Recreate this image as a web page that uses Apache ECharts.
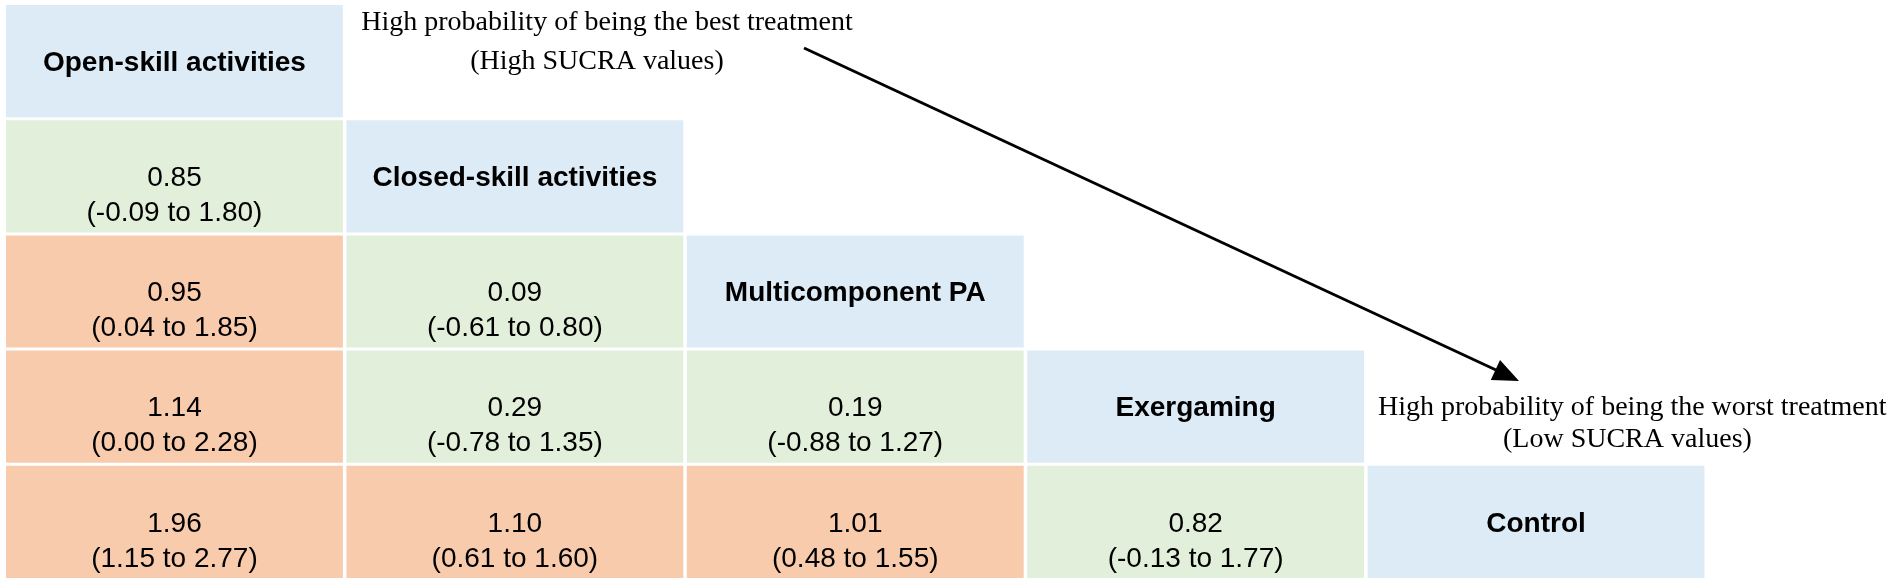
<!DOCTYPE html>
<html>
<head>
<meta charset="utf-8">
<script src="https://cdn.jsdelivr.net/npm/echarts@6/dist/echarts.min.js"></script>
<style>
  html, body { margin: 0; padding: 0; background: #fff; }
  #main { width: 1901px; height: 586px; }
</style>
</head>
<body>
<div id="main"></div>
<script>
(function () {
    'use strict';

    // treatments, ranked from best (top left) to worst (bottom right)
    var treatments = ['Open-skill activities', 'Closed-skill activities', 'Multicomponent PA', 'Exergaming', 'Control'];

    // lower triangle, row = treatment below, column = treatment compared
    var effect = [
        [],
        [0.85],
        [0.95, 0.09],
        [1.14, 0.29, 0.19],
        [1.96, 1.10, 1.01, 0.82]
    ];
    var ciLow = [
        [],
        [-0.09],
        [0.04, -0.61],
        [0.00, -0.78, -0.88],
        [1.15, 0.61, 0.48, -0.13]
    ];
    var ciHigh = [
        [],
        [1.80],
        [1.85, 0.80],
        [2.28, 1.35, 1.27],
        [2.77, 1.60, 1.55, 1.77]
    ];
    var significant = [
        [],
        [0],
        [1, 0],
        [1, 0, 0],
        [1, 1, 1, 0]
    ];

    var colours = { diag: '#DDEBF7', sig: '#F8CBAD', ns: '#E2EFDA' };

    // one item per cell: diagonal labels + comparisons
    var cells = [];
    treatments.forEach(function (name, r) {
        for (var c = 0; c < r; c++) {
            cells.push({
                value: [c, r],
                kind: significant[r][c] ? 'sig' : 'ns',
                lines: [effect[r][c].toFixed(2),
                    '(' + ciLow[r][c].toFixed(2) + ' to ' + ciHigh[r][c].toFixed(2) + ')']
            });
        }
        cells.push({ value: [r, r], kind: 'diag', lines: [name] });
    });

    var myChart = echarts.init(document.getElementById('main'));

    var option = {
        backgroundColor: '#fff',
        animation: false,
        grid: { left: 6, top: 5, width: 1702, height: 576 },
        xAxis: { type: 'category', data: treatments, show: false },
        yAxis: { type: 'category', data: treatments, inverse: true, show: false },
        series: [{
            type: 'custom',
            data: cells.map(function (d) { return d.value; }),
            renderItem: function (params, api) {
                var cell = cells[params.dataIndex];
                var p = api.coord([api.value(0), api.value(1)]);
                var s = api.size([1, 1]);
                var x0 = p[0] - s[0] / 2, y0 = p[1] - s[1] / 2;
                var w = s[0] - 3.5, h = s[1] - 3;
                var mx = x0 + w / 2, my = y0 + h / 2;
                var children = [{
                    type: 'rect',
                    shape: { x: x0, y: y0, width: w, height: h },
                    style: { fill: colours[cell.kind] }
                }];
                if (cell.kind === 'diag') {
                    children.push({
                        type: 'text',
                        style: {
                            text: cell.lines[0], x: mx, y: my + 2,
                            align: 'center', verticalAlign: 'middle',
                            font: 'bold 28px "Liberation Sans", Arial, sans-serif', fill: '#000'
                        }
                    });
                } else {
                    cell.lines.forEach(function (t, i) {
                        children.push({
                            type: 'text',
                            style: {
                                text: t, x: mx, y: my + 2 + i * 35,
                                align: 'center', verticalAlign: 'middle',
                                font: '28px "Liberation Sans", Arial, sans-serif', fill: '#000'
                            }
                        });
                    });
                }
                return { type: 'group', children: children };
            }
        }],
        // annotations: ranking direction
        graphic: [
            { type: 'text', style: { text: 'High probability of being the best treatment', x: 607, y: 23, align: 'center', verticalAlign: 'middle', font: '28px "Liberation Serif", "Times New Roman", serif', fill: '#000' } },
            { type: 'text', style: { text: '(High SUCRA values)', x: 597, y: 62, align: 'center', verticalAlign: 'middle', font: '28px "Liberation Serif", "Times New Roman", serif', fill: '#000' } },
            { type: 'text', style: { text: 'High probability of being the worst treatment', x: 1378, y: 408, align: 'left', verticalAlign: 'middle', font: '28px "Liberation Serif", "Times New Roman", serif', fill: '#000' } },
            { type: 'text', style: { text: '(Low SUCRA values)', x: 1503, y: 440, align: 'left', verticalAlign: 'middle', font: '28px "Liberation Serif", "Times New Roman", serif', fill: '#000' } },
            { type: 'line', shape: { x1: 804, y1: 48, x2: 1496, y2: 370 }, style: { stroke: '#000', lineWidth: 3 } },
            { type: 'polygon', shape: { points: [[1519, 381], [1490.8, 380], [1500, 360]] }, style: { fill: '#000' } }
        ]
    };
    myChart.setOption(option);
    window.addEventListener('resize', function () {
        myChart.resize();
    });
})();
</script>
</body>
</html>
